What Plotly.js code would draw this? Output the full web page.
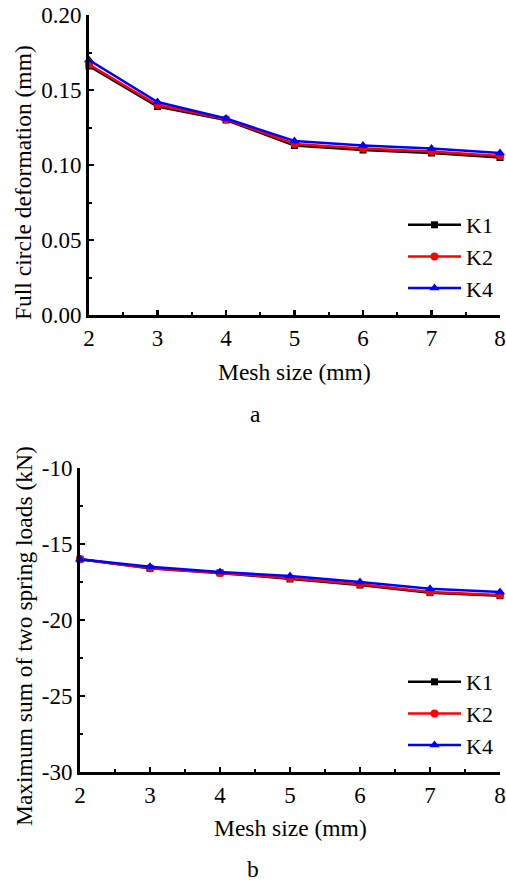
<!DOCTYPE html>
<html>
<head>
<meta charset="utf-8">
<script src="https://cdn.plot.ly/plotly-3.0.1.min.js"></script>
<style>
html,body{margin:0;padding:0;background:#fff;}
#chart{width:506px;height:884px;}
</style>
</head>
<body>
<div id="chart"></div>
<script>
// Mesh sizes (mm)
const meshSize = [2, 3, 4, 5, 6, 7, 8];
const seriesNames = ["K1", "K2", "K4"];

// (a) Full circle deformation (mm)
const deformK1 = [0.166, 0.139, 0.130, 0.113, 0.110, 0.108, 0.105];
const deformK2 = [0.167, 0.140, 0.1305, 0.114, 0.111, 0.109, 0.106];
const deformK4 = [0.170, 0.142, 0.131, 0.116, 0.113, 0.111, 0.108];

// (b) Maximum sum of two spring loads (kN)
const loadK1 = [-16.0, -16.6, -16.9, -17.3, -17.7, -18.2, -18.4];
const loadK2 = [-16.0, -16.6, -16.9, -17.25, -17.65, -18.15, -18.35];
const loadK4 = [-16.0, -16.5, -16.85, -17.1, -17.5, -17.95, -18.15];

// Tick labels
const xTicks = [2, 3, 4, 5, 6, 7, 8];
const yTicksA = [0.00, 0.05, 0.10, 0.15, 0.20];
const yTickTextA = ["0.00", "0.05", "0.10", "0.15", "0.20"];
const yTicksB = [-30, -25, -20, -15, -10];
const yTickTextB = ["-30", "-25", "-20", "-15", "-10"];

const FONT = "Liberation Serif, Times New Roman, serif";
const colors = ["#000000", "#ff0000", "#0000ff"];
const symbols = ["square", "circle", "triangle-up"];
const sizes = [7, 8, 9];

function mk(y, i, xa, ya, leg) {
  return {
    x: meshSize, y: y, name: seriesNames[i], type: "scatter", mode: "lines+markers",
    xaxis: xa, yaxis: ya, legend: leg, cliponaxis: false,
    line: {color: colors[i], width: 2.5},
    marker: {color: colors[i], symbol: symbols[i], size: sizes[i]}
  };
}

const data = [
  mk(deformK1, 0, "x", "y", "legend"),
  mk(deformK2, 1, "x", "y", "legend"),
  mk(deformK4, 2, "x", "y", "legend"),
  mk(loadK1, 0, "x2", "y2", "legend2"),
  mk(loadK2, 1, "x2", "y2", "legend2"),
  mk(loadK4, 2, "x2", "y2", "legend2")
];

const W = 506, H = 884;
function axBase() {
  return {
    showline: true, linecolor: "#000", linewidth: 3, mirror: false,
    showgrid: false, zeroline: false,
    ticks: "inside", ticklen: 5, tickwidth: 2.5, tickcolor: "#000",
    tickfont: {family: FONT, size: 23, color: "#000"},
    minor: {ticks: "inside", ticklen: 3, tickwidth: 2, tickcolor: "#000", showgrid: false},
    fixedrange: true, automargin: false
  };
}

const xaxis = Object.assign(axBase(), {
  domain: [89 / W, 500 / W], range: [2, 8], anchor: "y",
  tickmode: "array", tickvals: xTicks, ticktext: xTicks.map(String)
});
xaxis.minor.dtick = 0.5; xaxis.minor.tick0 = 2;
const yaxis = Object.assign(axBase(), {
  domain: [1 - 315 / H, 1 - 15 / H], range: [0, 0.20], anchor: "x",
  tickmode: "array", tickvals: yTicksA, ticktext: yTickTextA
});
yaxis.minor.dtick = 0.025; yaxis.minor.tick0 = 0;
const xaxis2 = Object.assign(axBase(), {
  domain: [80 / W, 500 / W], range: [2, 8], anchor: "y2",
  tickmode: "array", tickvals: xTicks, ticktext: xTicks.map(String)
});
xaxis2.minor.dtick = 0.5; xaxis2.minor.tick0 = 2;
const yaxis2 = Object.assign(axBase(), {
  domain: [1 - 772 / H, 1 - 468 / H], range: [-30, -10], anchor: "x2",
  tickmode: "array", tickvals: yTicksB, ticktext: yTickTextB
});
yaxis2.minor.dtick = 2.5; yaxis2.minor.tick0 = -30;

function ann(text, xpx, ypx, size, angle) {
  return {
    text: text, xref: "paper", yref: "paper", x: xpx / W, y: 1 - ypx / H,
    xanchor: "center", yanchor: "middle", showarrow: false,
    textangle: angle || 0, font: {family: FONT, size: size, color: "#000"}
  };
}

const legendBase = {
  font: {family: FONT, size: 22, color: "#000"},
  bgcolor: "rgba(0,0,0,0)", borderwidth: 0,
  xref: "paper", yref: "paper", xanchor: "left", yanchor: "top",
  tracegroupgap: 0, itemwidth: 53
};

const layout = {
  width: W, height: H,
  margin: {l: 0, r: 0, t: 0, b: 0},
  paper_bgcolor: "#fff", plot_bgcolor: "rgba(0,0,0,0)",
  font: {family: FONT, color: "#000"},
  showlegend: true,
  xaxis: xaxis, yaxis: yaxis, xaxis2: xaxis2, yaxis2: yaxis2,
  legend: Object.assign({}, legendBase, {x: 403 / W, y: 1 - 204 / H}),
  legend2: Object.assign({}, legendBase, {x: 403 / W, y: 1 - 661 / H}),
  annotations: [
    ann("Full circle deformation (mm)", 23, 183, 23.5, -90),
    ann("Mesh size (mm)", 294.5, 372, 23.5),
    ann("a", 256, 414, 23.5),
    ann("Maximum sum of two spring loads (kN)", 24, 636, 23.5, -90),
    ann("Mesh size (mm)", 290, 828, 23.5),
    ann("b", 253, 869, 23.5)
  ]
};

Plotly.newPlot("chart", data, layout, {displayModeBar: false, staticPlot: true});
</script>
</body>
</html>
